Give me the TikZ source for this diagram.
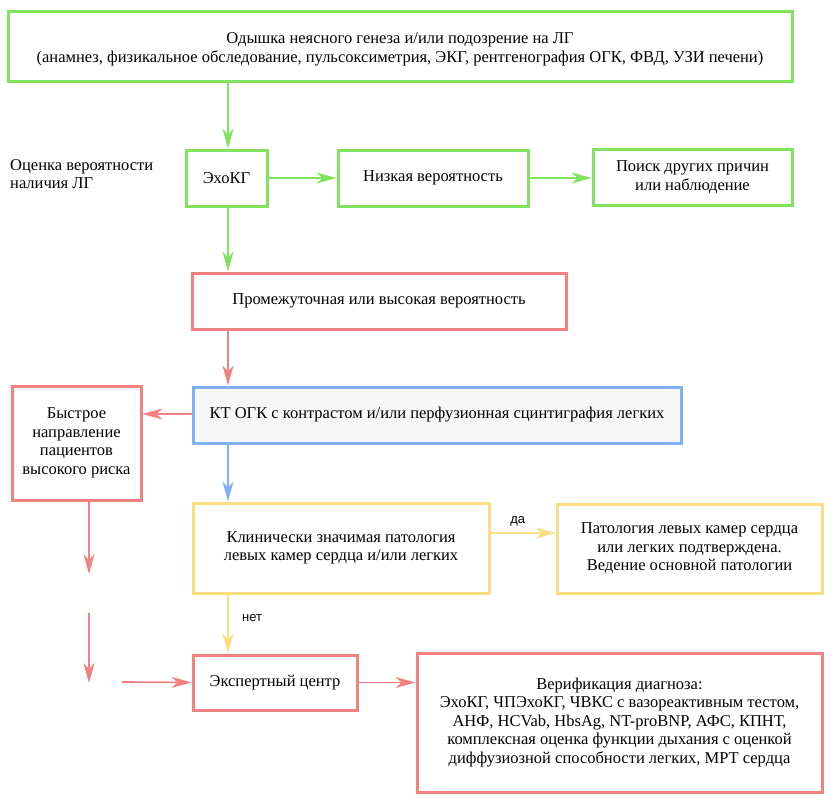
\documentclass[tikz,border=0pt]{standalone}
\usepackage{fontspec}
\setmainfont{Liberation Serif}
\newfontfamily\labelfont{Liberation Sans}
\usetikzlibrary{arrows.meta}
\definecolor{boxgreen}{RGB}{128,228,96}
\definecolor{boxred}{RGB}{244,128,128}
\definecolor{boxblue}{RGB}{128,176,248}
\definecolor{boxyellow}{RGB}{250,222,128}
\tikzset{
  box/.style={draw,line width=3pt,fill=white,align=center,inner sep=0pt,font=\fontsize{16.5}{18.5}\selectfont},
  greenbox/.style={box,draw=boxgreen},
  redbox/.style={box,draw=boxred},
  bluebox/.style={box,draw=boxblue,fill=black!3},
  yellowbox/.style={box,draw=boxyellow},
  link/.style={line width=1.7pt,-{Stealth[length=20pt,width=11pt,inset=6pt]}},
  answer/.style={text=black,font=\labelfont\fontsize{13}{15}\selectfont},
}
\begin{document}
\begin{tikzpicture}[x=1pt,y=-1pt]
  \useasboundingbox (0,0) rectangle (836,801);
  % boxes
  \node[greenbox,minimum width=784pt,minimum height=70pt] (start) at (400,46)
    {\rule{0pt}{18pt}Одышка неясного генеза и/или подозрение на ЛГ\\
     (анамнез, физикальное обследование, пульсоксиметрия, ЭКГ, рентгенография ОГК, ФВД, УЗИ печени)};
  \node[anchor=west,align=left,inner sep=0pt,font=\fontsize{16.5}{18.5}\selectfont] (assess) at (10,174)
    {Оценка вероятности\\наличия ЛГ};
  \node[greenbox,minimum width=81pt,minimum height=56pt] (echo) at (226.5,178) {ЭхоКГ};
  \node[greenbox,minimum width=190pt,minimum height=56pt] (low) at (433,178) {Низкая вероятность};
  \node[greenbox,minimum width=199pt,minimum height=56pt] (other) at (692.5,177)
    {Поиск других причин\\или наблюдение};
  \node[redbox,minimum width=374pt,minimum height=56pt] (high) at (379,301)
    {Промежуточная или высокая вероятность};
  \node[bluebox,minimum width=488pt,minimum height=56pt] (ct) at (437,415)
    {КТ ОГК с контрастом и/или перфузионная сцинтиграфия легких};
  \node[redbox,minimum width=129pt,minimum height=114pt] (fast) at (76.5,443)
    {Быстрое\\направление\\пациентов\\высокого риска};
  \node[yellowbox,minimum width=296pt,minimum height=90pt] (clin) at (341,548)
    {Клинически значимая патология\\левых камер сердца и/или легких};
  \node[yellowbox,minimum width=265pt,minimum height=89pt] (confirm) at (689.5,548.5)
    {Патология левых камер сердца\\или легких подтверждена.\\Ведение основной патологии};
  \node[redbox,minimum width=164pt,minimum height=55pt] (expert) at (275,682.5)
    {Экспертный центр};
  \node[redbox,minimum width=405pt,minimum height=139pt] (verif) at (619.5,722.5)
    {Верификация диагноза:\\
     ЭхоКГ, ЧПЭхоКГ, ЧВКС с вазореактивным тестом,\\
     АНФ, HCVab, HbsAg, NT-proBNP, АФС, КПНТ,\\
     комплексная оценка функции дыхания с оценкой\\
     диффузиозной способности легких, МРТ сердца};
  % free ends of the broken line
  \coordinate (b1) at (89,574);
  \coordinate (b2) at (89,613);
  \coordinate (b3) at (89,683);
  \coordinate (b4) at (122,682);
  % connectors
  \draw[link,boxgreen] (start.south -| 228,0) -- (echo.north -| 228,0);
  \draw[link,boxgreen] (echo.east) -- (low.west);
  \draw[link,boxgreen] (low.east) -- (low.east -| other.west);
  \draw[link,boxgreen] (echo.south -| 228,0) -- (high.north -| 228,0);
  \draw[link,boxred] (high.south -| 228,0) -- (ct.north -| 228,0);
  \draw[link,boxred] (ct.west |- 0,414) -- (fast.east |- 0,414);
  \draw[link,boxblue] (ct.south -| 228,0) -- (clin.north -| 228,0);
  \draw[link,boxyellow] (clin.east |- 0,533) -- node[answer,above=3pt,pos=0.42] (yes) {да} (confirm.west |- 0,533);
  \draw[link,boxyellow] (clin.south -| 228,0) -- node[answer,right=10pt,pos=0.4] (no) {нет} (expert.north -| 228,0);
  \draw[link,boxred] (b1 |- fast.south) -- (b1);
  \draw[link,boxred] (b2) -- (b3);
  \draw[link,boxred] (b4) -- (expert.west);
  \draw[link,boxred] (expert.east) -- (verif.west |- expert.east);
\end{tikzpicture}
\end{document}
